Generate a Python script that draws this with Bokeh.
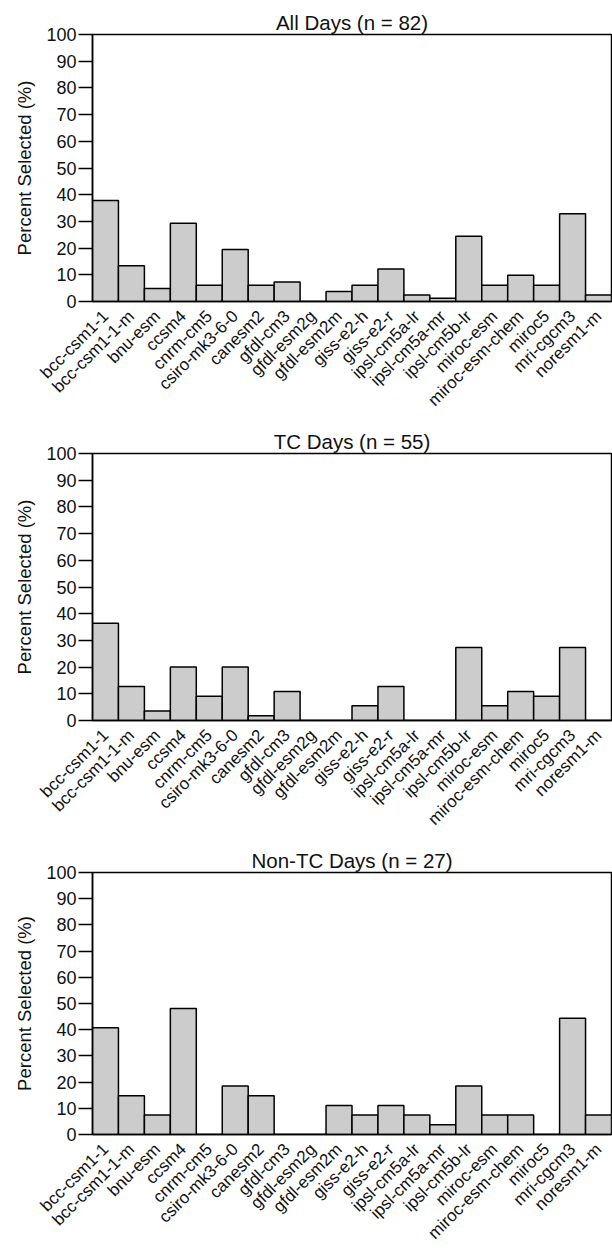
from math import pi

from bokeh.embed import file_html
from bokeh.layouts import column
from bokeh.models import ColumnDataSource, FactorRange, FixedTicker, Range1d
from bokeh.plotting import figure
from bokeh.resources import INLINE

# CMIP5 models, in plotting order
models = [
    "bcc-csm1-1", "bcc-csm1-1-m", "bnu-esm", "ccsm4", "cnrm-cm5",
    "csiro-mk3-6-0", "canesm2", "gfdl-cm3", "gfdl-esm2g", "gfdl-esm2m",
    "giss-e2-h", "giss-e2-r", "ipsl-cm5a-lr", "ipsl-cm5a-mr", "ipsl-cm5b-lr",
    "miroc-esm", "miroc-esm-chem", "miroc5", "mri-cgcm3", "noresm1-m",
]

# Percent of days on which each model was selected
all_days = [37.8, 13.4, 4.9, 29.3, 6.1, 19.5, 6.1, 7.3, 0.0, 3.7,
            6.1, 12.2, 2.4, 1.2, 24.4, 6.1, 9.8, 6.1, 32.9, 2.4]
tc_days = [36.4, 12.7, 3.6, 20.0, 9.1, 20.0, 1.8, 10.9, 0.0, 0.0,
           5.5, 12.7, 0.0, 0.0, 27.3, 5.5, 10.9, 9.1, 27.3, 0.0]
non_tc_days = [40.7, 14.8, 7.4, 48.1, 0.0, 18.5, 14.8, 0.0, 0.0, 11.1,
               7.4, 11.1, 7.4, 3.7, 18.5, 7.4, 7.4, 0.0, 44.4, 7.4]

panel_titles = ["All Days (n = 82)", "TC Days (n = 55)", "Non-TC Days (n = 27)"]
y_ticks = [0, 10, 20, 30, 40, 50, 60, 70, 80, 90, 100]
y_label = "Percent Selected (%)"

FONT = "Liberation Sans"
INK = "#111111"


def make_panel(title, values, height, bottom_border):
    src = ColumnDataSource(dict(model=models, pct=values))
    p = figure(
        x_range=FactorRange(factors=models, range_padding=0),
        y_range=Range1d(0, 100),
        width=612, height=height,
        output_backend="svg", toolbar_location=None,
        title=title,
        min_border_left=92, min_border_right=1,
        min_border_top=34, min_border_bottom=bottom_border,
    )
    p.vbar(x="model", top="pct", bottom=0, width=1.0, source=src,
           fill_color="#cccccc", line_color="black", line_width=1.5)

    p.title.align = "center"
    p.title.text_font = FONT
    p.title.text_font_size = "20.5px"
    p.title.text_font_style = "normal"
    p.title.text_color = INK
    p.title.standoff = 2

    p.xgrid.grid_line_color = None
    p.ygrid.grid_line_color = None
    p.outline_line_color = "black"
    p.outline_line_width = 1.5
    p.outline_line_alpha = 1.0

    p.yaxis.ticker = FixedTicker(ticks=y_ticks)
    p.yaxis.axis_label = y_label
    p.yaxis.axis_label_text_font = FONT
    p.yaxis.axis_label_text_font_size = "18.5px"
    p.yaxis.axis_label_text_font_style = "normal"
    p.yaxis.axis_label_text_color = INK
    p.yaxis.axis_label_standoff = 8
    p.yaxis.major_label_text_font = FONT
    p.yaxis.major_label_text_font_size = "18px"
    p.yaxis.major_label_text_color = INK
    p.yaxis.major_label_standoff = 2
    p.yaxis.major_tick_out = 14
    p.yaxis.major_tick_in = 0
    p.yaxis.major_tick_line_width = 1.5
    p.yaxis.minor_tick_line_color = None
    p.yaxis.axis_line_width = 1.5

    p.xaxis.major_label_orientation = pi / 4
    p.xaxis.major_label_text_font = FONT
    p.xaxis.major_label_text_font_size = "17px"
    p.xaxis.major_label_text_color = INK
    p.xaxis.major_label_standoff = 6
    p.xaxis.major_tick_line_color = None
    p.xaxis.axis_line_width = 1.5
    return p


p1 = make_panel(panel_titles[0], all_days, 419, 105)
p2 = make_panel(panel_titles[1], tc_days, 419, 105)
p3 = make_panel(panel_titles[2], non_tc_days, 414, 100)

layout = column(p1, p2, p3, spacing=0)

open("out.html", "w").write(file_html(layout, INLINE))
